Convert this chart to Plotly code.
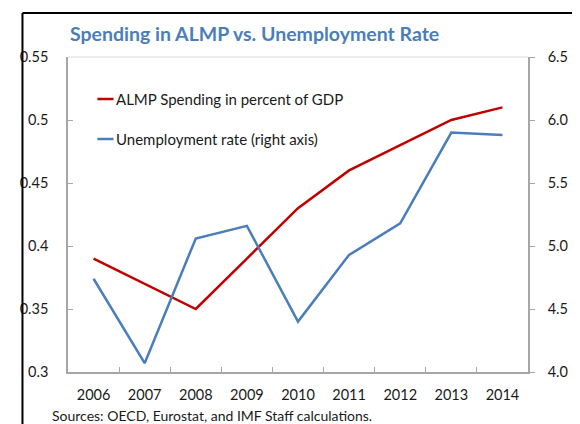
import plotly.graph_objects as go

years = ["2006", "2007", "2008", "2009", "2010", "2011", "2012", "2013", "2014"]
almp_spending = [0.39, 0.37, 0.35, 0.39, 0.43, 0.46, 0.48, 0.50, 0.51]
unemployment = [4.74, 4.07, 5.06, 5.16, 4.40, 4.93, 5.18, 5.90, 5.88]
left_ticks = [0.3, 0.35, 0.4, 0.45, 0.5, 0.55]
left_labels = ["0.3", "0.35", "0.4", "0.45", "0.5", "0.55"]
right_ticks = [4.0, 4.5, 5.0, 5.5, 6.0, 6.5]
right_labels = ["4.0", "4.5", "5.0", "5.5", "6.0", "6.5"]

RED = "#c00000"
BLUE = "#4a7ebb"
AXIS = "#a6a6a6"
FONT = "Lato, 'Open Sans', sans-serif"

OFF = 8  # page body margin
W, H = 580 - OFF, 424 - OFF
L, R, T, B = 57 - OFF, 38, 57 - OFF, 52
pw, ph = W - L - R, H - T - B

def px(x):
    return (x - OFF - L) / pw

def py(y):
    return (H - B - (y - OFF)) / ph

fig = go.Figure()
fig.add_trace(go.Scatter(x=years, y=almp_spending, mode="lines",
                         line=dict(color=RED, width=2.5), showlegend=False,
                         name="ALMP Spending in percent of GDP"))
fig.add_trace(go.Scatter(x=years, y=unemployment, mode="lines", yaxis="y2",
                         line=dict(color=BLUE, width=2.5), showlegend=False,
                         name="Unemployment rate (right axis)"))

shapes = [
    dict(type="line", xref="paper", yref="paper", x0=px(9), x1=px(9), y0=py(13), y1=py(440),
         line=dict(color="black", width=2)),
    dict(type="line", xref="paper", yref="paper", x0=px(9), x1=px(600), y0=py(13), y1=py(13),
         line=dict(color="black", width=2)),
    dict(type="line", xref="paper", yref="paper", x0=0, x1=1, y0=1, y1=1,
         line=dict(color="#d9d9d9", width=1)),
    dict(type="line", xref="paper", yref="paper", x0=px(88), x1=px(105), y0=py(99), y1=py(99),
         line=dict(color=RED, width=2.5)),
    dict(type="line", xref="paper", yref="paper", x0=px(88), x1=px(105), y0=py(139), y1=py(139),
         line=dict(color=BLUE, width=2.5)),
]

annotations = [
    dict(text="<b>Spending in ALMP vs. Unemployment Rate</b>", xref="paper", yref="paper",
         x=px(57), y=py(33), xanchor="left", yanchor="middle", showarrow=False,
         font=dict(family=FONT, size=19.5, color=BLUE)),
    dict(text="ALMP Spending in percent of GDP", xref="paper", yref="paper",
         x=px(105), y=py(99), xanchor="left", yanchor="middle", showarrow=False,
         font=dict(family=FONT, size=15, color="#1a1a1a")),
    dict(text="Unemployment rate (right axis)", xref="paper", yref="paper",
         x=px(105), y=py(139), xanchor="left", yanchor="middle", showarrow=False,
         font=dict(family=FONT, size=15, color="#1a1a1a")),
    dict(text="Sources: OECD, Eurostat, and IMF Staff calculations.", xref="paper", yref="paper",
         x=px(38), y=py(415), xanchor="left", yanchor="middle", showarrow=False,
         font=dict(family=FONT, size=14, color="#1a1a1a")),
]

fig.update_layout(
    width=W, height=H,
    margin=dict(l=L, r=R, t=T, b=B),
    paper_bgcolor="white", plot_bgcolor="white",
    font=dict(family=FONT, size=14, color="#1a1a1a"),
    xaxis=dict(type="category", range=[-0.5, 8.5], tickson="boundaries",
               ticks="inside", ticklen=5,
               tickcolor=AXIS, showline=True, linecolor=AXIS, linewidth=1.5,
               showgrid=False, zeroline=False, ticklabelstandoff=9,
               tickfont=dict(size=14.5)),
    yaxis=dict(range=[0.3, 0.55], tickvals=left_ticks, ticktext=left_labels,
               ticks="inside", ticklen=5, tickcolor=AXIS, showline=True,
               linecolor=AXIS, linewidth=1.5, showgrid=False, zeroline=False,
               ticklabelstandoff=15, tickfont=dict(size=14.5)),
    yaxis2=dict(range=[4.0, 6.5], tickvals=right_ticks, ticktext=right_labels,
                overlaying="y", side="right", ticks="outside", ticklen=5,
                tickcolor=AXIS, showline=True, linecolor=AXIS, linewidth=1.5,
                showgrid=False, zeroline=False, ticklabelstandoff=10,
                tickfont=dict(size=14.5)),
    shapes=shapes,
    annotations=annotations,
)

fig.write_html("out.html")
